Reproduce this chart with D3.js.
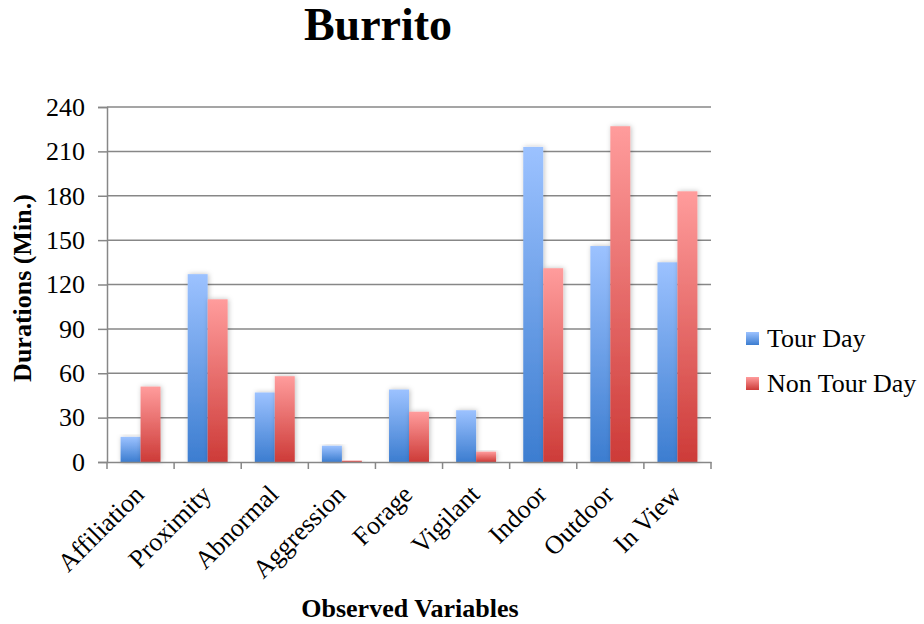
<!DOCTYPE html>
<html>
<head>
<meta charset="utf-8">
<script src="https://cdn.jsdelivr.net/npm/d3@7"></script>
<style>
  body { margin: 0; background: #fff; }
  text { font-family: "Liberation Serif", "Times New Roman", serif; fill: #000; }
</style>
</head>
<body>
<svg id="chart" width="924" height="624"></svg>
<script>
var categories = ["Affiliation", "Proximity", "Abnormal", "Aggression", "Forage", "Vigilant", "Indoor", "Outdoor", "In View"];
var tourDay = [17, 127, 47, 11, 49, 35, 213, 146, 135];
var nonTourDay = [51, 110, 58, 1, 34, 7, 131, 227, 183];
var seriesNames = ["Tour Day", "Non Tour Day"];
var yTicks = [0, 30, 60, 90, 120, 150, 180, 210, 240];

var svg = d3.select("#chart");
var plotLeft = 107, plotRight = 711, plotTop = 107, plotBottom = 462;

var x = d3.scaleBand().domain(categories).range([plotLeft, plotRight]);
var xs = d3.scaleBand().domain(seriesNames).range([0, x.bandwidth()]).paddingInner(0).paddingOuter(0.68);
var y = d3.scaleLinear().domain([0, 240]).range([plotBottom, plotTop]);

var defs = svg.append("defs");
var grads = [["blueGrad", "#9cc2ff", "#3c7dd0"], ["redGrad", "#ff9c9c", "#cd3b38"]];
grads.forEach(function (g) {
	var lg = defs.append("linearGradient").attr("id", g[0]).attr("x1", 0).attr("y1", 0).attr("x2", 0).attr("y2", 1);
	lg.append("stop").attr("offset", "0%").attr("stop-color", g[1]);
	lg.append("stop").attr("offset", "100%").attr("stop-color", g[2]);
});
var f = defs.append("filter").attr("id", "shadow").attr("x", "-30%").attr("y", "-10%").attr("width", "160%").attr("height", "120%");
f.append("feDropShadow").attr("dx", 1).attr("dy", 0).attr("stdDeviation", 2.5).attr("flood-color", "#000").attr("flood-opacity", 0.25);

// gridlines
svg.append("g").selectAll("line").data(yTicks.slice(1)).enter().append("line")
	.attr("x1", plotLeft).attr("x2", plotRight)
	.attr("y1", function (d) { return y(d); }).attr("y2", function (d) { return y(d); })
	.attr("stroke", "#878787").attr("stroke-width", 1.5);

// bars
var groups = svg.append("g").selectAll("g").data(categories).enter().append("g")
	.attr("transform", function (d) { return "translate(" + x(d) + ",0)"; });
groups.selectAll("rect").data(function (d, i) {
	return [{ s: seriesNames[0], v: tourDay[i], g: "blueGrad" }, { s: seriesNames[1], v: nonTourDay[i], g: "redGrad" }];
}).enter().append("rect")
	.attr("x", function (d) { return xs(d.s); })
	.attr("width", xs.bandwidth())
	.attr("y", function (d) { return y(d.v); })
	.attr("height", function (d) { return plotBottom - y(d.v); })
	.attr("fill", function (d) { return "url(#" + d.g + ")"; })
	.attr("filter", "url(#shadow)");

// y axis
var yAxis = svg.append("g").attr("transform", "translate(" + plotLeft + ",0)")
	.call(d3.axisLeft(y).tickValues(yTicks).tickSize(9).tickPadding(13));
yAxis.select(".domain").attr("stroke", "#878787").attr("stroke-width", 1.5);
yAxis.selectAll(".tick line").attr("stroke", "#878787").attr("stroke-width", 1.5);
yAxis.selectAll(".tick text").attr("font-size", 26).attr("font-family", "Liberation Serif").attr("fill", "#000");

// x axis
var xAxis = svg.append("g").attr("transform", "translate(0," + plotBottom + ")")
	.call(d3.axisBottom(x).tickSize(0).tickSizeOuter(0));
xAxis.select(".domain").attr("stroke", "#878787").attr("stroke-width", 1.5);
xAxis.selectAll(".tick line").remove();
var edges = categories.map(function (c) { return x(c); }).concat([plotRight]);
xAxis.selectAll("line.edge").data(edges).enter().append("line").attr("class", "edge")
	.attr("x1", function (d) { return d; }).attr("x2", function (d) { return d; })
	.attr("y1", 0).attr("y2", 7).attr("stroke", "#878787").attr("stroke-width", 1.5);
xAxis.selectAll(".tick text")
	.attr("font-size", 26).attr("font-family", "Liberation Serif").attr("fill", "#000")
	.attr("text-anchor", "end").attr("dy", 0).attr("y", 0)
	.attr("transform", "translate(5,34) rotate(-45)");

// title and axis labels
svg.append("text").attr("x", 378).attr("y", 40).attr("text-anchor", "middle")
	.attr("font-size", 46).attr("font-weight", "bold").text("Burrito");
svg.append("text").attr("transform", "translate(31,288) rotate(-90)").attr("text-anchor", "middle")
	.attr("font-size", 26).attr("font-weight", "bold").text("Durations (Min.)");
svg.append("text").attr("x", 410).attr("y", 617).attr("text-anchor", "middle")
	.attr("font-size", 26).attr("font-weight", "bold").text("Observed Variables");

// legend
var legend = svg.append("g").selectAll("g").data(seriesNames).enter().append("g")
	.attr("transform", function (d, i) { return "translate(746," + (332 + i * 45) + ")"; });
legend.append("rect").attr("width", 13).attr("height", 13)
	.attr("fill", function (d, i) { return "url(#" + grads[i][0] + ")"; });
legend.append("text").attr("x", 21).attr("y", 15).attr("font-size", 26).text(function (d) { return d; });
</script>
</body>
</html>
